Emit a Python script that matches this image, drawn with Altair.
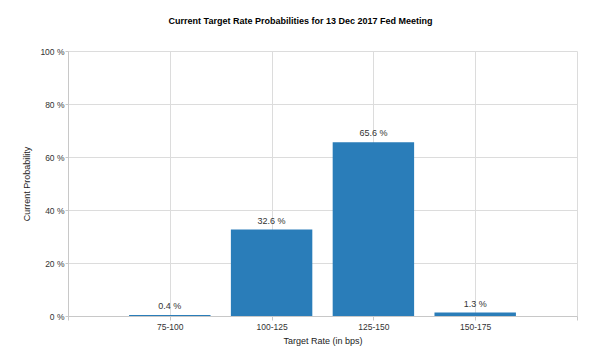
import altair as alt
import pandas as pd

categories = ["75-100", "100-125", "125-150", "150-175"]
positions = [1, 2, 3, 4]
probabilities = [0.4, 32.6, 65.6, 1.3]
labels = ["0.4 %", "32.6 %", "65.6 %", "1.3 %"]

df = pd.DataFrame({"cat": categories, "pos": positions, "prob": probabilities, "label": labels})

FONT = "Liberation Sans"
label_expr = ("datum.value == 1 ? '75-100' : datum.value == 2 ? '100-125' : "
              "datum.value == 3 ? '125-150' : datum.value == 4 ? '150-175' : ''")

x_scale = alt.Scale(domain=[0, 5], nice=False, zero=False)
y_scale = alt.Scale(domain=[0, 100], nice=False)

base = alt.Chart(df).transform_calculate(
    x0="datum.pos - 0.4", x1="datum.pos + 0.4", base0="0"
)

bars = base.mark_bar(color="#2a7db9").encode(
    x=alt.X("x0:Q", scale=x_scale,
            axis=alt.Axis(values=[0, 1, 2, 3, 4, 5], labelExpr=label_expr,
                          title="Target Rate (in bps)", grid=True, tickSize=4,
                          labelPadding=2, titlePadding=6)),
    x2="x1:Q",
    y=alt.Y("prob:Q", scale=y_scale,
            axis=alt.Axis(values=[0, 20, 40, 60, 80, 100],
                          labelExpr="datum.value + ' %'",
                          title="Current Probability", grid=True, tickSize=3,
                          labelPadding=1, titlePadding=8)),
    y2="base0:Q",
)

text = base.mark_text(baseline="bottom", dy=-4, font=FONT, fontSize=9, color="#333333").encode(
    x=alt.X("pos:Q", scale=x_scale),
    y=alt.Y("prob:Q", scale=y_scale),
    text="label:N",
)

chart = alt.layer(bars, text).properties(
    width=509,
    height=265,
    autosize=alt.AutoSizeParams(type="none"),
    padding={"left": 60, "top": 43, "right": 15, "bottom": 37},
    title=alt.TitleParams(
        "Current Target Rate Probabilities for 13 Dec 2017 Fed Meeting",
        font=FONT, fontSize=9, fontWeight="bold", color="#000000",
        anchor="middle", dx=-22, offset=21,
    ),
).configure_view(stroke=None).configure_axis(
    labelFont=FONT, labelFontSize=8.5, labelColor="#333333",
    titleFont=FONT, titleFontSize=9, titleColor="#222222", titleFontWeight="normal",
    gridColor="#dcdcdc", gridWidth=1, domainColor="#c8c8c8", tickColor="#c8c8c8",
)

chart.save("out.html", embed_options={"renderer": "svg", "actions": False})
